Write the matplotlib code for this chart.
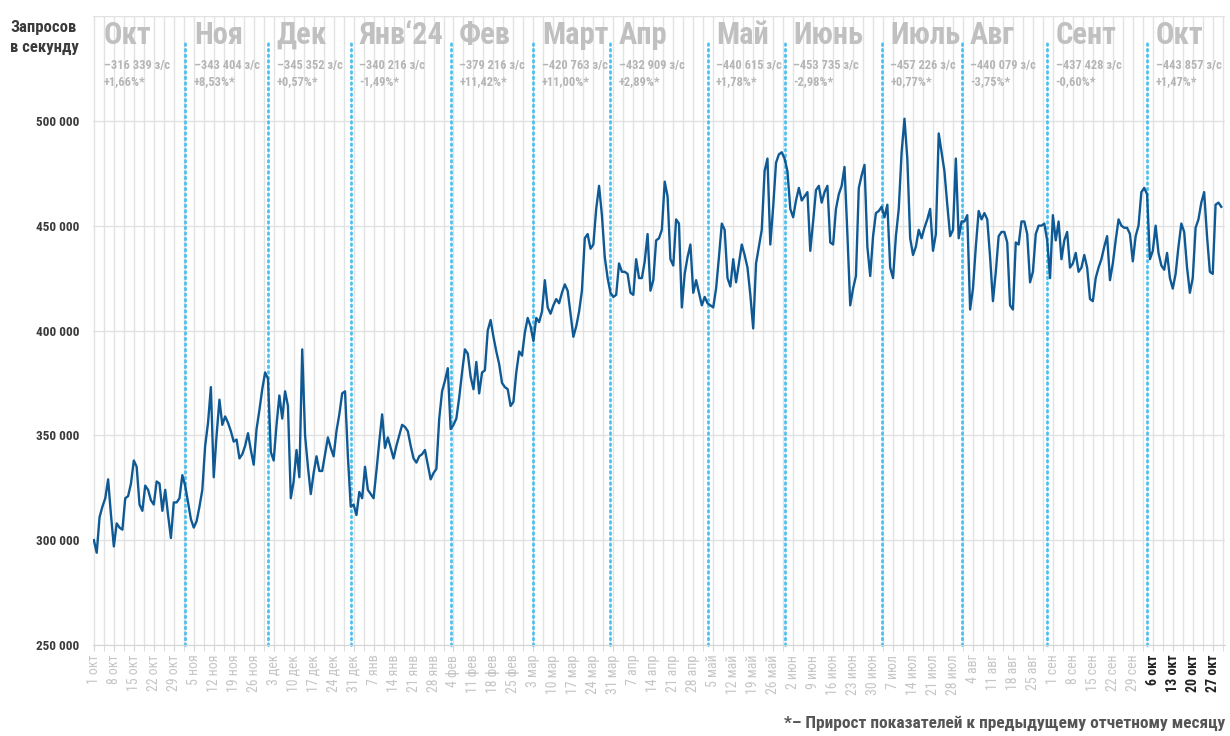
import sys
import numpy as np
import pandas as pd
import matplotlib
matplotlib.use('Agg')
import matplotlib.pyplot as plt
import matplotlib.dates as mdates
from matplotlib import font_manager as fm
from matplotlib.transforms import blended_transform_factory

# daily requests per second, thousands
oct23 = [300, 294, 311, 316, 320, 329, 312, 297, 308, 306, 305, 320, 321, 327, 338, 335,
         317, 314, 326, 324, 319, 317, 328, 327, 314, 324, 312, 301, 318, 318, 320]
nov23 = [331, 326, 318, 310, 306, 309, 316, 324, 345, 356, 373, 330, 350, 367, 355, 359,
         356, 352, 347, 348, 339, 341, 345, 351, 343, 336, 353, 362, 372, 380]
dec23 = [377, 342, 338, 355, 369, 358, 371, 364, 320, 328, 343, 330, 391, 350, 335, 322,
         332, 340, 333, 333, 341, 349, 344, 340, 352, 360, 370, 371, 340, 316, 317]
jan24 = [312, 323, 320, 335, 324, 322, 320, 333, 347, 360, 344, 349, 344, 339, 345, 350,
         355, 354, 352, 345, 339, 337, 340, 341, 343, 336, 329, 332, 334, 358, 371]
feb24 = [376, 382, 353, 355, 358, 368, 380, 391, 389, 378, 372, 385, 370, 380, 381, 400,
         405, 397, 390, 384, 375, 373, 372, 364, 366, 380, 390, 388, 399]
mar24 = [406, 402, 395, 406, 404, 409, 424, 411, 408, 412, 415, 413, 418, 422, 419, 408,
         397, 402, 409, 419, 444, 446, 439, 441, 458, 469, 455, 435, 425, 418, 416]
apr24 = [417, 432, 428, 428, 427, 418, 417, 434, 425, 425, 433, 446, 419, 424, 443, 444,
         448, 471, 464, 434, 431, 453, 451, 411, 427, 435, 441, 418, 424, 418]
may24 = [412, 416, 413, 412, 411, 420, 435, 451, 448, 425, 421, 434, 423, 432, 441, 436,
         430, 417, 401, 432, 440, 448, 476, 482, 441, 459, 480, 484, 485, 482, 476]
jun24 = [458, 454, 462, 468, 462, 464, 466, 438, 452, 467, 469, 461, 466, 469, 442, 441,
         458, 465, 469, 478, 446, 412, 420, 426, 468, 474, 479, 440, 426, 445]
jul24 = [456, 457, 459, 454, 460, 430, 425, 445, 458, 485, 501, 482, 444, 436, 440, 448,
         444, 449, 453, 458, 438, 446, 494, 485, 476, 460, 445, 448, 482, 444, 452]
aug24 = [452, 455, 410, 420, 440, 457, 453, 456, 453, 435, 414, 428, 445, 447, 447, 442,
         412, 410, 442, 441, 452, 452, 446, 423, 428, 446, 450, 450, 451, 443, 425]
sep24 = [455, 443, 452, 434, 443, 447, 430, 432, 437, 428, 430, 436, 430, 415, 414, 425,
         430, 434, 440, 445, 424, 432, 443, 453, 450, 449, 449, 446, 433, 445]
oct24 = [450, 466, 468, 465, 434, 438, 450, 437, 431, 429, 437, 425, 420, 427, 440, 451,
         447, 430, 418, 425, 449, 453, 461, 466, 445, 428, 427, 460, 461, 459]

month_names = ['Окт', 'Ноя', 'Дек', 'Янв\u201824', 'Фев', 'Март', 'Апр', 'Май',
               'Июнь', 'Июль', 'Авг', 'Сент', 'Окт']
month_avg = ['316 339', '343 404', '345 352', '340 216', '379 216', '420 763', '432 909',
             '440 615', '453 735', '457 226', '440 079', '437 428', '443 857']
month_delta = ['+1,66%*', '+8,53%*', '+0,57%*', '-1,49%*', '+11,42%*', '+11,00%*',
               '+2,89%*', '+1,78%*', '-2,98%*', '+0,77%*', '-3,75%*', '-0,60%*', '+1,47%*']
# dotted month separators as drawn on the chart
sep_dates = ['2023-11-02', '2023-12-01', '2023-12-30', '2024-02-03', '2024-03-03',
             '2024-03-30', '2024-05-03', '2024-05-30', '2024-07-03', '2024-07-31',
             '2024-08-30', '2024-10-04']
ru_months = ['янв', 'фев', 'мар', 'апр', 'май', 'июн', 'июл', 'авг', 'сен', 'окт', 'ноя', 'дек']

rps = np.array(oct23 + nov23 + dec23 + jan24 + feb24 + mar24 + apr24 + may24 +
               jun24 + jul24 + aug24 + sep24 + oct24) * 1000
dates = pd.date_range('2023-10-01', periods=len(rps), freq='D')


def pick_font():
    for name in ['Roboto Condensed', 'Liberation Sans Narrow', 'DejaVu Sans']:
        try:
            fm.findfont(fm.FontProperties(family=name), fallback_to_default=False)
            return name
        except Exception:
            continue
    return 'DejaVu Sans'


font = pick_font()
print('font:', font, file=sys.stderr)
plt.rcParams['font.family'] = [font, 'DejaVu Sans']

fig = plt.figure(figsize=(12.3, 7.36), dpi=100)
ax = fig.add_axes([93 / 1230, 1 - 645 / 736, (1225 - 93) / 1230, (645 - 16) / 736])

x = mdates.date2num(dates)
ax.plot(x, rps, color='#0f5a94', lw=1.7, zorder=3)

x0 = x[0]
ax.set_xlim(x0 - 0.3, x0 + 396.3)
ax.set_ylim(250000, 550000)

# grid
yt = np.arange(250000, 550001, 50000)
ax.set_yticks(yt)
ax.set_yticklabels([f'{v:,}'.replace(',', ' ') if v < 550000 else '' for v in yt],
                   fontsize=9.5, fontweight='bold', color='#3a3a3a')
for v in yt:
    ax.axhline(v, color='#e2e2e2', lw=1, zorder=0)
for v in np.arange(x0, x0 + 397, 3.5):
    ax.axvline(v, color='#e2e2e2', lw=1, zorder=0)

major = mdates.date2num(pd.date_range('2023-10-01', '2024-10-27', freq='7D'))
ax.set_xticks(major)
labels = []
for d in mdates.num2date(major):
    labels.append(f'{d.day} {ru_months[d.month - 1]}')
ax.set_xticklabels(labels, rotation=90, fontsize=10)
for d, t in zip(mdates.num2date(major), ax.get_xticklabels()):
    if d.year == 2024 and d.month == 10:
        t.set_color('#222222')
        t.set_fontweight('bold')
    else:
        t.set_color('#c6c6c6')
ax.set_xticks(np.arange(x0, x0 + 397, 3.5), minor=True)
ax.tick_params(axis='x', which='both', length=4, color='#d5d5d5', pad=3)
ax.tick_params(axis='y', length=0, pad=10)
for s in ['top', 'right', 'left']:
    ax.spines[s].set_visible(False)
ax.spines['bottom'].set_color('#d5d5d5')

# month separators and labels
tr = blended_transform_factory(ax.transData, fig.transFigure)
sep_x = mdates.date2num(pd.to_datetime(sep_dates))
for sx in sep_x:
    ax.plot([sx, sx], [0, 0.96], transform=blended_transform_factory(ax.transData, ax.transAxes),
            color='#4cc0ee', lw=2, ls=(0, (0.6, 1.4)), dash_capstyle='round', zorder=2,
            clip_on=False)
label_x = [x0 + 3.5] + list(sep_x + 3)
for lx, name, avg, dlt in zip(label_x, month_names, month_avg, month_delta):
    ax.text(lx, 1 - 20 / 736, name, transform=tr, fontsize=22, fontweight='bold',
            color='#c0c0c0', va='top', ha='left')
    ax.text(lx, 1 - 59 / 736, f'\u2013{avg} з/с', transform=tr, fontsize=9,
            fontweight='bold', color='#b5b5b5', va='top', ha='left')
    ax.text(lx, 1 - 75 / 736, dlt, transform=tr, fontsize=9,
            fontweight='bold', color='#b5b5b5', va='top', ha='left')

fig.text(10 / 1230, 1 - 20 / 736, 'Запросов\nв секунду', fontsize=12, fontweight='bold',
         color='#3a3a3a', va='top', ha='left', linespacing=1.45)
fig.text(1225 / 1230, 1 - 731 / 736, '*\u2013 Прирост показателей к предыдущему отчетному месяцу',
         fontsize=12.5, fontweight='bold', color='#555555', va='bottom', ha='right')

fig.savefig('out.png', dpi=100)
